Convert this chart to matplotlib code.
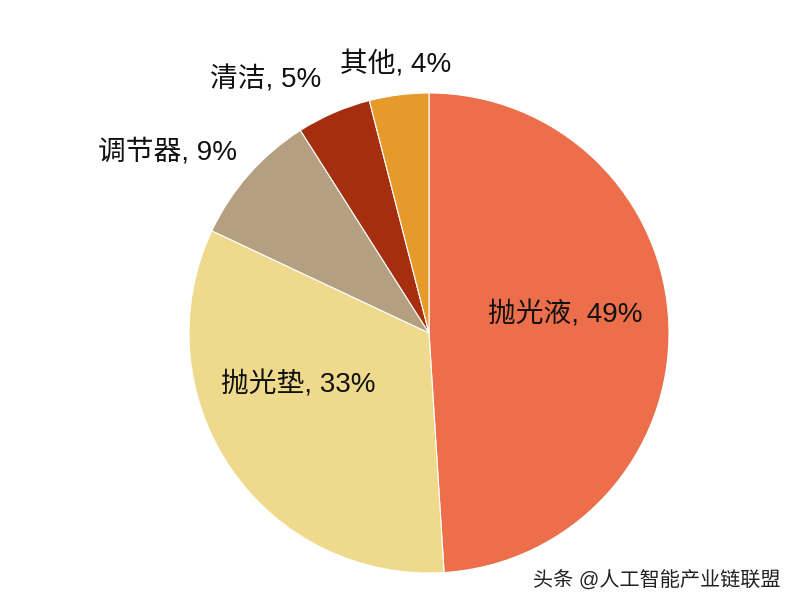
import matplotlib.pyplot as plt

# market share of CMP materials
labels = ["抛光液", "抛光垫", "调节器", "清洁", "其他"]
shares = [49, 33, 9, 5, 4]
colors = ["#EC6E4A", "#EFD98C", "#B49F81", "#A52E0F", "#E59A2A"]

# label positions in pie-radius units
label_pos = [(0.567, 0.075), (-0.546, -0.217), (-1.09, 0.754), (-0.68, 1.054), (-0.1375, 1.117)]

plt.rcParams['font.family'] = ['Liberation Sans', 'Noto Sans CJK SC', 'DejaVu Sans']

fig = plt.figure(figsize=(8, 6.08), dpi=100)
ax = fig.add_axes([0, 0, 1, 1])

ax.pie(shares, colors=colors, startangle=90, counterclock=False,
       radius=1, center=(0, 0),
       wedgeprops=dict(edgecolor="white", linewidth=0.8))

for lab, val, (x, y) in zip(labels, shares, label_pos):
    ax.text(x, y, f"{lab}, {val}%", ha="center", va="center",
            fontsize=20, color="#111111")

# centre at (429, 333) px, radius 240 px
r = 240
ax.set_xlim(-429 / r, (800 - 429) / r)
ax.set_ylim(-(608 - 333) / r, 333 / r)
ax.set_aspect("auto")
ax.axis("off")

fig.text(0.976, 0.045, "头条 @人工智能产业链联盟", ha="right", va="center",
         fontsize=14.5, color="#222222")

fig.savefig("out.png", dpi=100)
